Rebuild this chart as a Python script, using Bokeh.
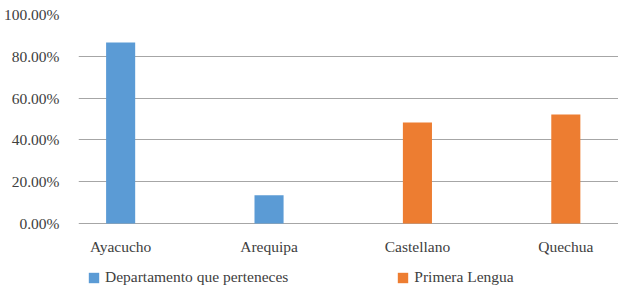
from bokeh.plotting import figure
from bokeh.models import Range1d, FixedTicker, Legend, LegendItem, NumeralTickFormatter, ColumnDataSource
from bokeh.core.properties import value
from bokeh.embed import file_html
from bokeh.resources import INLINE

categories = ["Ayacucho", "Arequipa", "Castellano", "Quechua"]
dept_cats = ["Ayacucho", "Arequipa"]
dept_vals = [0.866, 0.135]
lengua_cats = ["Castellano", "Quechua"]
lengua_vals = [0.483, 0.522]
y_ticks = [0.0, 0.2, 0.4, 0.6, 0.8, 1.0]

FONT = "Liberation Serif"
FS = "15.5px"

p = figure(width=618, height=289, output_backend="svg", toolbar_location=None,
           x_axis_location=None,
           x_range=Range1d(-0.284, 3.355), y_range=Range1d(-66 / 209, 1.0),
           min_border_left=77, min_border_right=0, min_border_top=14, min_border_bottom=0)
p.outline_line_color = None

idx = {c: i for i, c in enumerate(categories)}
src1 = ColumnDataSource(dict(x=[idx[c] for c in dept_cats], top=dept_vals))
src2 = ColumnDataSource(dict(x=[idx[c] for c in lengua_cats], top=lengua_vals))
r1 = p.vbar(x="x", top="top", bottom=0, width=0.196, source=src1, fill_color="#5B9BD5", line_color=None)
r2 = p.vbar(x="x", top="top", bottom=0, width=0.196, source=src2, fill_color="#ED7D31", line_color=None)

# category labels under the zero line
lab_src = ColumnDataSource(dict(x=list(range(len(categories))), y=[0] * len(categories), t=categories))
p.text(x="x", y="y", text="t", source=lab_src, y_offset=23,
       text_align="center", text_baseline="middle",
       text_font=value(FONT), text_font_size=value(FS), text_color="#404040")

p.yaxis.ticker = FixedTicker(ticks=y_ticks)
p.yaxis.formatter = NumeralTickFormatter(format="0.00%")
p.yaxis.axis_line_color = None
p.yaxis.major_tick_line_color = None
p.yaxis.minor_tick_line_color = None
p.yaxis.major_label_standoff = 13
p.yaxis.major_label_text_font = FONT
p.yaxis.major_label_text_font_size = FS
p.yaxis.major_label_text_color = "#404040"

p.xgrid.grid_line_color = None
p.ygrid.ticker = FixedTicker(ticks=y_ticks)
p.ygrid.grid_line_color = "#a6a6a6"
p.ygrid.grid_line_width = 1.2

legend = Legend(items=[LegendItem(label="Departamento que perteneces", renderers=[r1]),
                       LegendItem(label="Primera Lengua", renderers=[r2])],
                orientation="horizontal", location=(9, 3))
legend.label_text_font = FONT
legend.label_text_font_size = FS
legend.label_text_color = "#404040"
legend.glyph_width = 13
legend.glyph_height = 13
legend.label_height = 16
legend.label_standoff = 5
legend.spacing = 108
legend.padding = 0
legend.margin = 0
legend.border_line_color = None
legend.background_fill_alpha = 0
p.add_layout(legend, "center")

open("out.html", "w").write(file_html(p, INLINE))
